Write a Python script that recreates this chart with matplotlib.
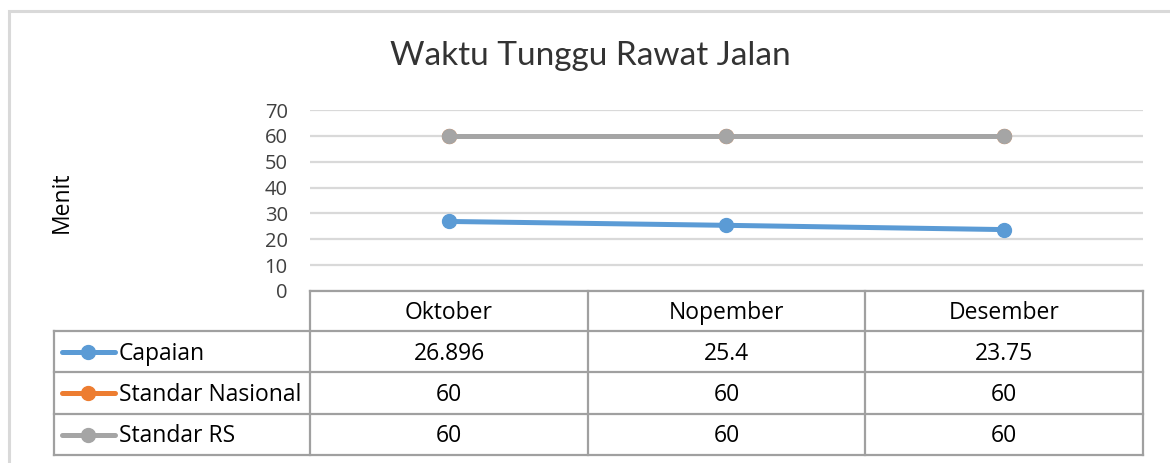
import matplotlib.pyplot as plt
from matplotlib.lines import Line2D
from matplotlib.patches import Rectangle

months = ["Oktober", "Nopember", "Desember"]
capaian = [26.896, 25.4, 23.75]
standar_nasional = [60, 60, 60]
standar_rs = [60, 60, 60]

series_names = ["Capaian", "Standar Nasional", "Standar RS"]
series_vals = [capaian, standar_nasional, standar_rs]
colors = ["#5B9BD5", "#ED7D31", "#A5A5A5"]
yticks = [0, 10, 20, 30, 40, 50, 60, 70]

W, H = 1170, 463
fig = plt.figure(figsize=(W / 100, H / 100), dpi=100)


def fx(px):
    return px / W


def fy(py):
    return 1 - py / H


# outer chart frame
fig.patches.append(Rectangle((fx(9), fy(470)), fx(1200), fy(11) - fy(470),
                             transform=fig.transFigure, fill=False,
                             edgecolor="#d9d9d9", lw=2.2))

ax = fig.add_axes([fx(310), fy(291), fx(1143) - fx(310), fy(110) - fy(291)])
x = list(range(len(months)))
for name, vals, c in zip(series_names, series_vals, colors):
    ax.plot(x, vals, color=c, lw=3.6, marker="o", ms=10, label=name,
            solid_capstyle="round")
ax.set_xlim(-0.5, len(months) - 0.5)
ax.set_ylim(0, 70)
ax.set_yticks(yticks)
ax.set_xticks([])
ax.grid(axis="y", color="#d9d9d9", lw=1.6)
ax.set_axisbelow(True)
for s in ax.spines.values():
    s.set_visible(False)
ax.tick_params(axis="y", length=0, pad=16, labelsize=14.5, labelcolor="#404040")
for lab in ax.get_yticklabels():
    lab.set_family("Open Sans")

fig.text(fx(62), fy(202), "Menit", rotation=90, ha="center", va="center",
         fontsize=16.5, family="Open Sans", color="#000000")

fig.text(fx(590), fy(56), "Waktu Tunggu Rawat Jalan", ha="center", va="center",
         fontsize=24, family="Lato", color="#333333")

# data table
line_kw = dict(color="#a0a0a0", lw=1.6, transform=fig.transFigure)
col_edges = [310, 588, 865, 1143]
row_edges = [291, 331, 372, 414, 455]
left = 54
fig.add_artist(Line2D([fx(310), fx(1143)], [fy(291), fy(291)], **line_kw))
for r in row_edges[1:]:
    fig.add_artist(Line2D([fx(left), fx(1143)], [fy(r), fy(r)], **line_kw))
fig.add_artist(Line2D([fx(left), fx(left)], [fy(331), fy(455)], **line_kw))
for cxe in col_edges:
    fig.add_artist(Line2D([fx(cxe), fx(cxe)], [fy(291), fy(455)], **line_kw))

tf = dict(fontsize=16.5, family="Open Sans", color="#000000", ha="center", va="center")
for i, m in enumerate(months):
    cx = (col_edges[i] + col_edges[i + 1]) / 2
    fig.text(fx(cx), fy((row_edges[0] + row_edges[1]) / 2 + 2), m, **tf)
    for j, vals in enumerate(series_vals):
        cy = (row_edges[j + 1] + row_edges[j + 2]) / 2 + 2
        fig.text(fx(cx), fy(cy), f"{vals[i]:g}", **tf)

for j, (name, c) in enumerate(zip(series_names, colors)):
    cy = (row_edges[j + 1] + row_edges[j + 2]) / 2
    fig.add_artist(Line2D([fx(62), fx(115)], [fy(cy), fy(cy)], color=c, lw=3.6,
                          transform=fig.transFigure, solid_capstyle="round"))
    fig.add_artist(Line2D([fx(88)], [fy(cy)], color=c, marker="o", ms=10,
                          transform=fig.transFigure))
    fig.text(fx(119), fy(cy + 2), name, fontsize=16.5, family="Open Sans",
             color="#000000", ha="left", va="center")

fig.savefig("out.png", dpi=100)
